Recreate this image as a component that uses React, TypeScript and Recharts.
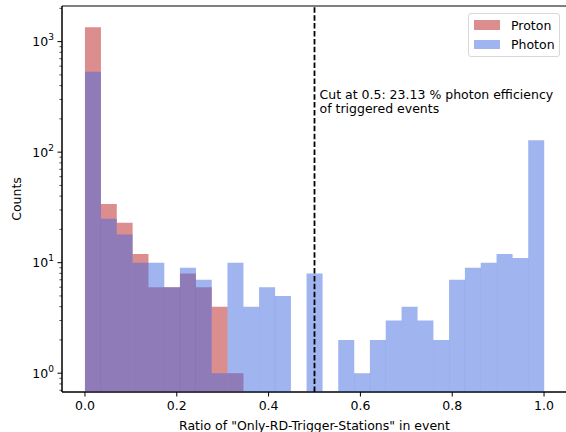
import React from "react";
import {
  ComposedChart,
  Bar,
  XAxis,
  YAxis,
  ReferenceLine,
  ReferenceArea,
  Legend,
} from "recharts";

// histogram counts, 29 equal bins from 0 to 1
const protonCounts = [1350, 34, 23, 12, 6, 6, 8, 6, 4, 1, 0, 0, 0, 0, 0, 0, 0, 0, 0, 0, 0, 0, 0, 0, 0, 0, 0, 0, 0];
const photonCounts = [533, 25, 18, 10, 10, 6, 9, 7, 1, 10, 4, 6, 5, 0, 8, 0, 2, 1, 2, 3, 4, 3, 2, 7, 9, 10, 12, 11, 128];

const xTicks = [0, 0.2, 0.4, 0.6, 0.8, 1.0];
const yMajorTicks = [1, 10, 100, 1000];
const yMinorTicks = [0.7, 0.8, 0.9, 2, 3, 4, 5, 6, 7, 8, 9, 20, 30, 40, 50, 60, 70, 80, 90, 200, 300, 400, 500, 600, 700, 800, 900, 2000];

const cutValue = 0.5;
const cutText = ["Cut at 0.5: 23.13 % photon efficiency", "of triggered events"];

const series = [
  { key: "proton", name: "Proton", color: "#cd5c5c", opacity: 0.7 },
  { key: "photon", name: "Photon", color: "#4169e1", opacity: 0.5 },
];

const binCount = protonCounts.length;
const data = protonCounts.map((p, i) => ({
  x: (i + 0.5) / binCount,
  proton: p > 0 ? p : null,
  photon: photonCounts[i] > 0 ? photonCounts[i] : null,
}));

const FONT = "'DejaVu Sans', sans-serif";
const Y_DOMAIN = [0.676, 2100];
const X_DOMAIN = [-0.05, 1.05];

const YTick = (props: any) => {
  const { x, y, payload } = props;
  const v = payload.value;
  const major = yMajorTicks.includes(v);
  const len = major ? 4.5 : 2.6;
  return (
    <g>
      <line x1={x - len} x2={x} y1={y} y2={y} stroke="#000" strokeWidth={major ? 1 : 0.7} />
      {major && (
        <text x={x - 8} y={y} dy={4.5} textAnchor="end" fontSize={12.5} fontFamily={FONT} fill="#000">
          10
          <tspan dy={-6} fontSize={9}>
            {Math.round(Math.log10(v))}
          </tspan>
        </text>
      )}
    </g>
  );
};

const CutLabel = (props: any) => {
  const x = props.viewBox.x + 5;
  return (
    <text x={x} y={98.5} fontSize={12.5} fontFamily={FONT} fill="#000">
      <tspan x={x}>{cutText[0]}</tspan>
      <tspan x={x} dy={14.5}>{cutText[1]}</tspan>
    </text>
  );
};

const LegendBox = () => (
  <div
    style={{
      width: 90,
      height: 42,
      border: "1px solid #d8d8d8",
      borderRadius: 3,
      background: "rgba(255,255,255,0.8)",
      fontFamily: FONT,
      fontSize: 12.5,
      boxSizing: "content-box",
      position: "relative",
    }}
  >
    {series.map((s, i) => (
      <div
        key={s.key}
        style={{ position: "absolute", left: 5, top: 4 + i * 19.7, height: 15, display: "flex", alignItems: "center" }}
      >
        <div style={{ width: 26, height: 9.5, background: s.color, opacity: s.opacity }} />
        <span style={{ marginLeft: 11, color: "#000" }}>{s.name}</span>
      </div>
    ))}
  </div>
);

export default function App() {
  return (
    <div style={{ position: "absolute", left: 0, top: 0 }}>
      <ComposedChart
        width={568}
        height={432}
        data={data}
        margin={{ top: 6, right: 1, bottom: 0, left: 12 }}
        barCategoryGap={0}
        barGap={0}
      >
        <XAxis
          xAxisId="num"
          dataKey="x"
          type="number"
          domain={X_DOMAIN}
          allowDataOverflow
          ticks={xTicks}
          interval={0}
          tickFormatter={(v: number) => v.toFixed(1)}
          height={40}
          tickSize={4.5}
          tickMargin={4.5}
          stroke="#000"
          tick={{ fill: "#000", fontSize: 12.5, fontFamily: FONT }}
          label={{
            value: 'Ratio of "Only-RD-Trigger-Stations" in event',
            position: "insideBottom",
            offset: 2,
            style: { fill: "#000", fontSize: 12.5, fontFamily: FONT },
          }}
        />
        <XAxis xAxisId="num2" dataKey="x" type="number" domain={X_DOMAIN} allowDataOverflow hide />
        <YAxis
          scale="log"
          domain={Y_DOMAIN}
          allowDataOverflow
          ticks={[...yMajorTicks, ...yMinorTicks].sort((a, b) => a - b)}
          interval={0}
          width={50}
          tickSize={0}
          tickMargin={0}
          stroke="#000"
          tick={<YTick />}
          label={{
            value: "Counts",
            angle: -90,
            position: "insideLeft",
            offset: 5,
            style: { fill: "#000", fontSize: 12.5, fontFamily: FONT, textAnchor: "middle" },
          }}
        />
        <Bar
          xAxisId="num"
          dataKey="proton"
          name="Proton"
          fill={series[0].color}
          fillOpacity={series[0].opacity}
          isAnimationActive={false}
        />
        <Bar
          xAxisId="num2"
          dataKey="photon"
          name="Photon"
          fill={series[1].color}
          fillOpacity={series[1].opacity}
          isAnimationActive={false}
        />
        <ReferenceLine
          xAxisId="num"
          x={cutValue}
          stroke="#000"
          strokeWidth={1.8}
          strokeDasharray="5.5 2.4"
          label={<CutLabel />}
        />
        <ReferenceArea
          xAxisId="num"
          x1={X_DOMAIN[0]}
          x2={X_DOMAIN[1]}
          y1={Y_DOMAIN[0]}
          y2={Y_DOMAIN[1]}
          fill="none"
          fillOpacity={0}
          stroke="#000"
          strokeWidth={1}
          ifOverflow="visible"
        />
        <Legend
          layout="vertical"
          align="center"
          verticalAlign="middle"
          content={<LegendBox />}
          wrapperStyle={{ left: 468, top: 12.5, width: 92, height: 44 }}
        />
      </ComposedChart>
    </div>
  );
}
